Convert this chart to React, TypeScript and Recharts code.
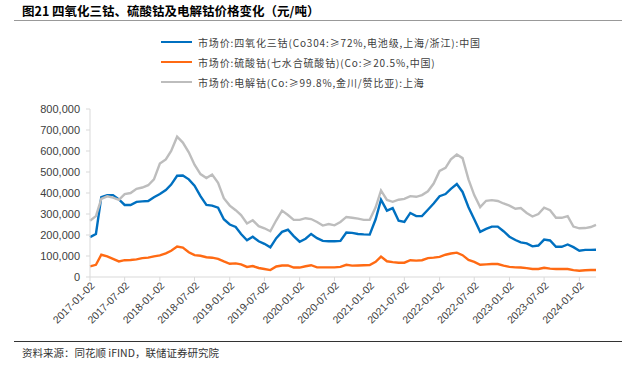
import React from 'react'
import { LineChart, Line, XAxis, YAxis, Legend } from 'recharts'

// monthly readings (千元/吨), last point is the final day shown
const dates: string[] = Array.from({ length: 87 }, (_, i) => {
  const y = 2017 + Math.floor(i / 12)
  const m = (i % 12) + 1
  return `${y}-${String(m).padStart(2, '0')}-02`
}).concat(['2024-03-29'])

const co3o4 = [
  190, 205, 380, 390, 390, 370, 343, 343, 358, 360,
  362, 380, 395, 414, 440, 482, 483, 465, 435, 385,
  343, 340, 330, 275, 250, 238, 205, 175, 192, 170,
  158, 141, 185, 215, 225, 195, 168, 182, 205, 185,
  172, 170, 170, 172, 212, 210, 205, 203, 202, 275,
  368, 316, 328, 268, 262, 305, 290, 290, 320, 350,
  385, 395, 420, 443, 405, 332, 275, 215, 229, 240,
  240, 218, 192, 176, 165, 160, 146, 150, 178, 174,
  144, 144, 155, 142, 125, 129, 129, 130,
]

const coSulfate = [
  51, 58, 106, 98, 86, 74, 80, 81, 84, 90,
  92, 98, 103, 113, 125, 145, 140, 118, 104, 101,
  94, 92, 86, 74, 63, 65, 60, 48, 52, 43,
  38, 33, 50, 55, 55, 45, 45, 51, 56, 46,
  46, 46, 46, 48, 58, 54, 55, 56, 57, 72,
  97, 75, 71, 68, 68, 80, 78, 80, 90, 92,
  96, 106, 112, 116, 104, 81, 72, 58, 60, 62,
  62, 54, 48, 46, 45, 42, 38, 38, 44, 40,
  38, 38, 38, 33, 30, 32, 33, 33,
]

const coMetal = [
  268, 290, 372, 384, 378, 367, 395, 400, 420, 426,
  437, 465, 540, 560, 600, 668, 640, 594, 535, 490,
  471, 488, 448, 375, 340, 318, 295, 255, 270, 242,
  232, 218, 270, 316, 295, 272, 272, 280, 276, 262,
  245, 252, 246, 262, 286, 282, 278, 272, 272, 332,
  412, 367, 358, 368, 372, 385, 382, 390, 408, 445,
  505, 520, 560, 583, 566, 465, 390, 333, 363, 366,
  362, 350, 340, 325, 328, 305, 288, 300, 330, 318,
  282, 282, 290, 240, 232, 233, 238, 248,
]

const tickLabels = [
  '2017-01-02', '2017-07-02', '2018-01-02', '2018-07-02', '2019-01-02',
  '2019-07-02', '2020-01-02', '2020-07-02', '2021-01-02', '2021-07-02',
  '2022-01-02', '2022-07-02', '2023-01-02', '2023-07-02', '2024-01-02',
]

const yTicks = [0, 100000, 200000, 300000, 400000, 500000, 600000, 700000, 800000]

const seriesNames = [
  '市场价:四氧化三钴(Co304:≥72%,电池级,上海/浙江):中国',
  '市场价:硫酸钴(七水合硫酸钴)(Co:≥20.5%,中国)',
  '市场价:电解钴(Co:≥99.8%,金川/赞比亚):上海',
]
const colors = ['#0070C0', '#FF6A13', '#BDBDBD']

const data = dates.map((d, i) => ({
  ts: Date.parse(d),
  a: co3o4[i] * 1000,
  b: coSulfate[i] * 1000,
  c: coMetal[i] * 1000,
}))

const fmtDate = (v: number) => new Date(v).toISOString().slice(0, 10)

const LegendBox = () => (
  <div>
    {seriesNames.map((n, i) => (
      <div key={n} style={{ display: 'flex', alignItems: 'center', height: 20 }}>
        <div style={{ width: 31, height: 0, borderTop: `2.5px solid ${colors[i]}`, marginRight: 6 }} />
        <span style={{ fontSize: 10, color: '#404040', fontFamily: "'Noto Sans CJK SC', sans-serif", whiteSpace: 'nowrap', letterSpacing: 0.85 }}>{n}</span>
      </div>
    ))}
  </div>
)

export default function App() {
  return (
    <div style={{ position: 'absolute', left: 0, top: 0, width: 637, height: 369, background: '#fff', fontFamily: "'Noto Sans CJK SC', sans-serif" }}>
      <div style={{ position: 'absolute', left: 22, top: 1, fontSize: 12.5, fontWeight: 700, color: '#000', whiteSpace: 'nowrap' }}>
        图21 四氧化三钴、硫酸钴及电解钴价格变化（元/吨）
      </div>
      <div style={{ position: 'absolute', left: 14, top: 20, width: 608, borderTop: '1.5px solid #999' }} />

      <div style={{ position: 'absolute', left: 0, top: 0 }}>
        <LineChart width={637} height={369} data={data} margin={{ top: 109, right: 41, bottom: 32, left: 0 }}>
          <XAxis dataKey="ts" type="number" domain={[Date.parse('2017-01-02'), Date.parse('2024-03-29')]}
            ticks={tickLabels.map(t => Date.parse(t))} interval={0} height={60}
            axisLine={{ stroke: '#d9d9d9' }} tickLine={{ stroke: '#d9d9d9' }} tickSize={4} tickMargin={0}
            tick={{ angle: -45, textAnchor: 'end', fontSize: 10.5, fill: '#404040', fontFamily: 'Arial, "Liberation Sans", sans-serif' }}
            tickFormatter={fmtDate} />
          <YAxis width={90} domain={[0, 800000]} ticks={yTicks} interval={0}
            axisLine={{ stroke: '#d9d9d9' }} tickLine={{ stroke: '#d9d9d9' }} tickSize={4} tickMargin={6}
            tick={{ fontSize: 11, fill: '#404040', fontFamily: 'Arial, "Liberation Sans", sans-serif' }}
            tickFormatter={(v: number) => v.toLocaleString('en-US')} />
          <Legend layout="vertical" align="center" verticalAlign="middle" content={<LegendBox />}
            wrapperStyle={{ top: 32, left: 161, width: 380 }} />
          <Line dataKey="a" name={seriesNames[0]} stroke={colors[0]} strokeWidth={2.4} dot={false} isAnimationActive={false} />
          <Line dataKey="b" name={seriesNames[1]} stroke={colors[1]} strokeWidth={2.4} dot={false} isAnimationActive={false} />
          <Line dataKey="c" name={seriesNames[2]} stroke={colors[2]} strokeWidth={2.4} dot={false} isAnimationActive={false} />
        </LineChart>
      </div>

      <div style={{ position: 'absolute', left: 14, top: 341, width: 608, borderTop: '1px solid #333' }} />
      <div style={{ position: 'absolute', left: 22, top: 345, fontSize: 10.5, color: '#333', whiteSpace: 'nowrap' }}>
        资料来源：同花顺 iFIND，联储证券研究院
      </div>
    </div>
  )
}
